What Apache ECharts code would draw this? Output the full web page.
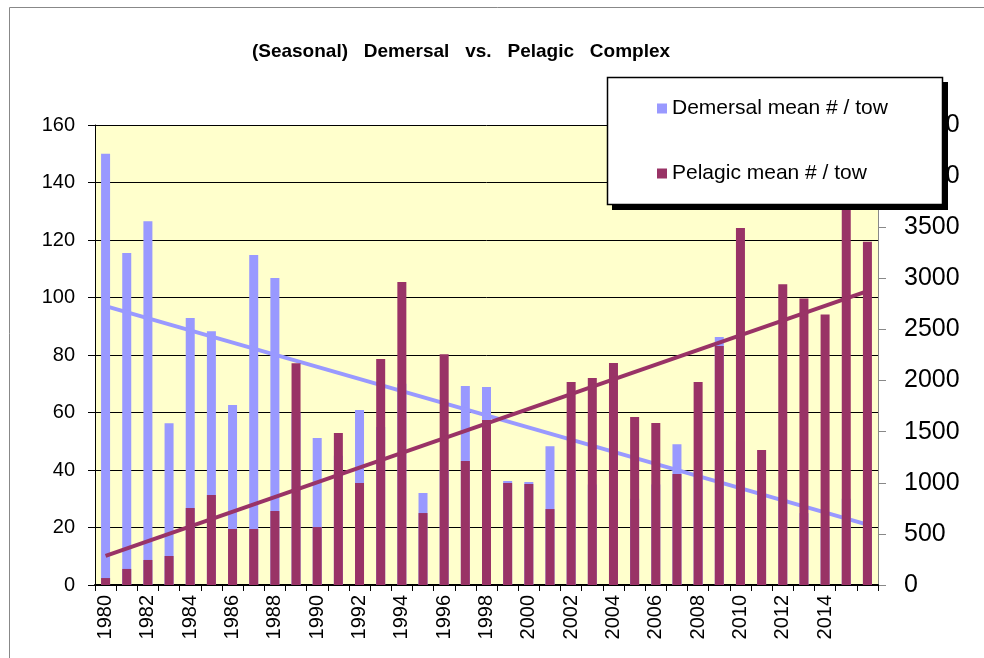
<!DOCTYPE html>
<html>
<head>
<meta charset="utf-8">
<title>(Seasonal) Demersal vs. Pelagic Complex</title>
<script src="https://cdn.jsdelivr.net/npm/echarts@6/dist/echarts.min.js"></script>
<style>
	html, body { margin: 0; padding: 0; background: #fff; }
	#main { width: 984px; height: 658px; }
</style>
</head>
<body>
<div id="main"></div>
<script>
// 年份
var years = ['1980', '1981', '1982', '1983', '1984', '1985', '1986', '1987', '1988', '1989',
	'1990', '1991', '1992', '1993', '1994', '1995', '1996', '1997', '1998', '1999',
	'2000', '2001', '2002', '2003', '2004', '2005', '2006', '2007', '2008', '2009',
	'2010', '2011', '2012', '2013', '2014', '2015', '2016'];

// Demersal mean # / tow (left axis)
var demersal = [150, 115.5, 126.5, 56.3, 92.9, 88.3, 62.6, 114.8, 106.8, 60,
	51.1, 45, 60.9, 55, 70, 32, 40, 69.2, 68.9, 36.2,
	35.8, 48.3, 40, 35, 45, 30, 35, 49, 40, 86.3,
	50, 30, 30, 25, 20, 30, 20];

// Pelagic mean # / tow (right axis)
var pelagic = [68, 157, 245, 284, 753, 880, 548, 548, 724, 2169,
	567, 1487, 998, 2211, 2964, 704, 2257, 1213, 1614, 998,
	988, 743, 1986, 2025, 2172, 1643, 1585, 1086, 1986, 2338,
	3493, 1321, 2943, 2803, 2647, 3800, 3357];

// 趋势线 (first year, last year)
var demTrend = [97, 21];
var pelTrend = [285, 2875];

var leftTicks = [0, 160, 20];
var rightTicks = [0, 4500, 500];

showchart();

function showchart() {
	var myChart = echarts.init(document.getElementById('main'));
	var last = years.length - 1;
	var font = 'Liberation Sans';

	var option = {
		backgroundColor: '#fff',
		animation: false,
		title: {
			text: '(Seasonal)   Demersal   vs.   Pelagic   Complex',
			left: 456,
			top: 37,
			textAlign: 'center',
			textStyle: {
				fontFamily: font,
				fontSize: 19,
				fontWeight: 'bold',
				color: '#000'
			}
		},
		graphic: [{
			type: 'rect',
			shape: { x: 9.5, y: 7.5, width: 1200, height: 1000 },
			style: { fill: 'none', stroke: '#888', lineWidth: 1 },
			z: -1
		}, {
			// 图例阴影
			type: 'rect',
			shape: { x: 612, y: 82, width: 336, height: 128 },
			style: { fill: '#000' },
			z: 10
		}, {
			type: 'rect',
			shape: { x: 607.5, y: 77.5, width: 335, height: 127 },
			style: { fill: '#fff', stroke: '#000', lineWidth: 1.5 },
			z: 10
		}],
		legend: {
			orient: 'vertical',
			left: 607,
			top: 77,
			z: 12,
			data: ['Demersal mean # / tow', 'Pelagic mean # / tow'],
			icon: 'rect',
			itemWidth: 10,
			itemHeight: 10,
			itemGap: 44,
			padding: [21, 52, 20, 50],
			textStyle: {
				fontFamily: font,
				fontSize: 21,
				color: '#000'
			}
		},
		grid: {
			left: 95,
			right: 106,
			top: 125,
			bottom: 73,
			show: true,
			backgroundColor: '#FFFFCC',
			borderWidth: 0,
			outerBoundsMode: 'none'
		},
		xAxis: {
			type: 'category',
			data: years,
			axisLine: { lineStyle: { color: '#000', width: 2 } },
			axisTick: { show: true, length: 6, interval: 0, lineStyle: { color: '#000' } },
			axisLabel: {
				rotate: 90,
				margin: 10,
				fontFamily: font,
				fontSize: 20,
				color: '#000',
				interval: function(index) {
					return index % 2 == 0 && index < last - 1;
				}
			}
		},
		yAxis: [{
			type: 'value',
			min: leftTicks[0],
			max: leftTicks[1],
			interval: leftTicks[2],
			axisLine: { show: true, lineStyle: { color: '#000' } },
			axisTick: { show: true, length: 7, lineStyle: { color: '#000' } },
			axisLabel: { margin: 20, fontFamily: font, fontSize: 20, color: '#000' },
			splitLine: { lineStyle: { color: '#000', width: 1 } }
		}, {
			type: 'value',
			min: rightTicks[0],
			max: rightTicks[1],
			interval: rightTicks[2],
			position: 'right',
			axisLine: { show: true, lineStyle: { color: '#888' } },
			axisTick: { show: true, length: 8, lineStyle: { color: '#888' } },
			axisLabel: {
				margin: 26,
				fontFamily: font,
				fontSize: 25,
				color: '#000',
				formatter: function(v) {
					return String(v);
				}
			},
			splitLine: { show: false }
		}],
		series: [{
			name: 'Demersal mean # / tow',
			type: 'bar',
			yAxisIndex: 0,
			barWidth: 9,
			barGap: '-100%',
			itemStyle: { color: '#9999FF' },
			z: 2,
			data: demersal
		}, {
			name: 'dem trend',
			type: 'line',
			yAxisIndex: 0,
			symbol: 'none',
			lineStyle: { color: '#9999FF', width: 4 },
			z: 3,
			data: [[years[0], demTrend[0]], [years[last], demTrend[1]]]
		}, {
			name: 'Pelagic mean # / tow',
			type: 'bar',
			yAxisIndex: 1,
			barWidth: 9,
			barGap: '-100%',
			itemStyle: { color: '#993366' },
			z: 4,
			data: pelagic
		}, {
			name: 'pel trend',
			type: 'line',
			yAxisIndex: 1,
			symbol: 'none',
			lineStyle: { color: '#993366', width: 4 },
			z: 5,
			data: [[years[0], pelTrend[0]], [years[last], pelTrend[1]]]
		}]
	};

	myChart.setOption(option, true);
	window.onresize = function() {
		myChart.resize();
	}
}
</script>
</body>
</html>
